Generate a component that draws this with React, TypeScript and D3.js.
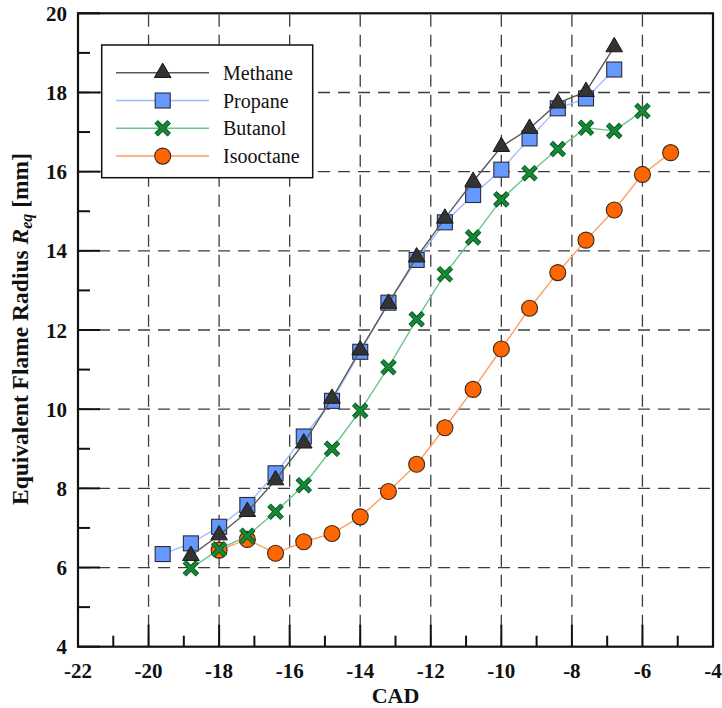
import React from "react";
import * as d3 from "d3";

const methaneX = [-18.8, -18, -17.2, -16.4, -15.6, -14.8, -14, -13.2, -12.4, -11.6, -10.8, -10, -9.2, -8.4, -7.6, -6.8];
const methaneY = [6.3, 6.82, 7.41, 8.21, 9.14, 10.27, 11.49, 12.67, 13.84, 14.82, 15.75, 16.63, 17.09, 17.73, 18.02, 19.15];

const propaneX = [-19.6, -18.8, -18, -17.2, -16.4, -15.6, -14.8, -14, -13.2, -12.4, -11.6, -10.8, -10, -9.2, -8.4, -7.6, -6.8];
const propaneY = [6.34, 6.61, 7.03, 7.58, 8.38, 9.31, 10.21, 11.45, 12.69, 13.77, 14.72, 15.41, 16.05, 16.84, 17.6, 17.85, 18.58];

const butanolX = [-18.8, -18, -17.2, -16.4, -15.6, -14.8, -14, -13.2, -12.4, -11.6, -10.8, -10, -9.2, -8.4, -7.6, -6.8, -6];
const butanolY = [5.98, 6.46, 6.8, 7.41, 8.08, 9.0, 9.96, 11.06, 12.27, 13.41, 14.34, 15.3, 15.96, 16.57, 17.11, 17.03, 17.53];

const isooctaneX = [-18, -17.2, -16.4, -15.6, -14.8, -14, -13.2, -12.4, -11.6, -10.8, -10, -9.2, -8.4, -7.6, -6.8, -6, -5.2];
const isooctaneY = [6.44, 6.71, 6.36, 6.65, 6.86, 7.28, 7.92, 8.61, 9.53, 10.5, 11.52, 12.55, 13.45, 14.27, 15.03, 15.93, 16.48];

const xTicks = [-22, -20, -18, -16, -14, -12, -10, -8, -6, -4];
const xMinor = [-21, -19, -17, -15, -13, -11, -9, -7, -5];
const yTicks = [4, 6, 8, 10, 12, 14, 16, 18, 20];
const yMinor = [5, 7, 9, 11, 13, 15, 17, 19];

const seriesNames = ["Methane", "Propane", "Butanol", "Isooctane"];

const FONT = "'Liberation Serif', 'Times New Roman', Times, serif";

const L = 78, R = 713, T = 13.3, B = 646.7;

type Kind = "tri" | "sq" | "x" | "circ";

const styles: Record<string, { line: string; kind: Kind }> = {
  Methane: { line: "#5a5a5a", kind: "tri" },
  Propane: { line: "#9dbdff", kind: "sq" },
  Butanol: { line: "#6cc58c", kind: "x" },
  Isooctane: { line: "#ff9e5e", kind: "circ" },
};

function Marker({ kind, x, y }: { kind: Kind; x: number; y: number }) {
  if (kind === "tri") {
    const p = d3.symbol(d3.symbolTriangle, 120)();
    return <path d={p || ""} transform={`translate(${x},${y})`} fill="#333333" stroke="#1a1a1a" strokeWidth={1} />;
  }
  if (kind === "sq") {
    const s = 15;
    return <rect x={x - s / 2} y={y - s / 2} width={s} height={s} fill="#6699ff" stroke="#2b2b3a" strokeWidth={1.1} />;
  }
  if (kind === "x") {
    const h = 6.5;
    const d = `M${x - h},${y - h}L${x + h},${y + h}M${x - h},${y + h}L${x + h},${y - h}`;
    return (
      <g>
        <path d={d} stroke="#0a4f1e" strokeWidth={5} strokeLinecap="butt" />
        <path d={d} stroke="#138a35" strokeWidth={3.2} strokeLinecap="butt" />
      </g>
    );
  }
  return <circle cx={x} cy={y} r={8} fill="#ff6600" stroke="#3a2a20" strokeWidth={1.1} />;
}

export default function App() {
  const x = d3.scaleLinear().domain([-22, -4]).range([L, R]);
  const y = d3.scaleLinear().domain([4, 20]).range([B, T]);

  const data: Record<string, { xs: number[]; ys: number[] }> = {
    Methane: { xs: methaneX, ys: methaneY },
    Propane: { xs: propaneX, ys: propaneY },
    Butanol: { xs: butanolX, ys: butanolY },
    Isooctane: { xs: isooctaneX, ys: isooctaneY },
  };

  const line = d3
    .line<[number, number]>()
    .x((d) => x(d[0]))
    .y((d) => y(d[1]));

  const drawOrder = ["Isooctane", "Butanol", "Propane", "Methane"];

  const legX = 101.7, legY = 45, legW = 211, legH = 132.7;

  return (
    <svg
      width={722}
      height={708}
      style={{ position: "absolute", left: 0, top: 0, background: "#fff" }}
      fontFamily={FONT}
    >
      <rect x={0} y={0} width={722} height={708} fill="#fff" />
      {/* grid */}
      <g stroke="#3c3c3c" strokeWidth={1.3} strokeDasharray="12,8">
        {xTicks.filter((t) => t > -22 && t < -4).map((t) => (
          <line key={"gx" + t} x1={x(t)} x2={x(t)} y1={B} y2={T} />
        ))}
        {yTicks.filter((t) => t > 4 && t < 20).map((t) => (
          <line key={"gy" + t} x1={L} x2={R} y1={y(t)} y2={y(t)} />
        ))}
      </g>
      {/* ticks */}
      <g stroke="#111" strokeWidth={2}>
        {xTicks.map((t) => (
          <line key={"tx" + t} x1={x(t)} x2={x(t)} y1={B} y2={B - 22} />
        ))}
        {xMinor.map((t) => (
          <line key={"mx" + t} x1={x(t)} x2={x(t)} y1={B} y2={B - 11} />
        ))}
        {yTicks.map((t) => (
          <line key={"ty" + t} x1={L} x2={L + 22} y1={y(t)} y2={y(t)} />
        ))}
        {yMinor.map((t) => (
          <line key={"my" + t} x1={L} x2={L + 12} y1={y(t)} y2={y(t)} />
        ))}
      </g>
      {/* frame */}
      <rect x={L} y={T} width={R - L} height={B - T} fill="none" stroke="#111" strokeWidth={2.2} />

      {/* legend */}
      <rect x={legX} y={legY} width={legW} height={legH} fill="#fff" stroke="#111" strokeWidth={1.5} />
      {seriesNames.map((n, i) => {
        const cy = 72.7 + i * 27.8;
        return (
          <g key={"leg" + n}>
            <line x1={116} x2={209} y1={cy} y2={cy} stroke={styles[n].line} strokeWidth={1.5} />
            <Marker kind={styles[n].kind} x={162.7} y={cy} />
            <text x={223} y={cy + 7} fontSize={20} fill="#111">
              {n}
            </text>
          </g>
        );
      })}

      {/* series */}
      {drawOrder.map((n) => {
        const pts: [number, number][] = data[n].xs.map((v, i) => [v, data[n].ys[i]]);
        return (
          <g key={"s" + n}>
            <path d={line(pts) || ""} fill="none" stroke={styles[n].line} strokeWidth={1.4} />
            {pts.map((p, i) => (
              <Marker key={i} kind={styles[n].kind} x={x(p[0])} y={y(p[1])} />
            ))}
          </g>
        );
      })}

      {/* tick labels */}
      <g fontSize={21} fontWeight="bold" fill="#111">
        {xTicks.map((t) => (
          <text key={"lx" + t} x={x(t)} y={678.3} textAnchor="middle">
            {String(t)}
          </text>
        ))}
        {yTicks.map((t) => (
          <text key={"ly" + t} x={67} y={y(t) + 7.5} textAnchor="end">
            {String(t)}
          </text>
        ))}
      </g>
      <text x={(L + R) / 2} y={703} textAnchor="middle" fontSize={22} fontWeight="bold" fill="#111">
        CAD
      </text>
      <text
        transform="translate(28,329) rotate(-90)"
        textAnchor="middle"
        fontSize={23.5}
        fontWeight="bold"
        fill="#111"
      >
        <tspan>Equivalent Flame Radius </tspan>
        <tspan fontStyle="italic">R</tspan>
        <tspan fontStyle="italic" fontSize={16} dy={4}>eq</tspan>
        <tspan dy={-4}> [mm]</tspan>
      </text>
    </svg>
  );
}
